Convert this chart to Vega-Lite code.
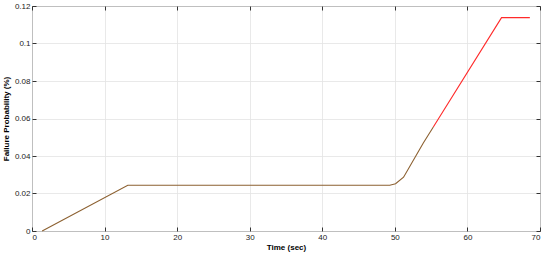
{
  "$schema": "https://vega.github.io/schema/vega-lite/v6.json",
  "autosize": "none",
  "width": 508,
  "height": 225,
  "padding": {"left": 32, "top": 6, "right": 10, "bottom": 25},
  "background": "white",
  "config": {
    "view": {"stroke": "#333", "strokeWidth": 1},
    "axis": {
      "labelFont": "Liberation Sans",
      "titleFont": "Liberation Sans",
      "labelFontSize": 8,
      "titleFontSize": 8,
      "titleFontWeight": "bold",
      "labelColor": "#222",
      "titleColor": "#000",
      "domain": false,
      "tickColor": "#333",
      "tickSize": -4,
      "gridColor": "#e3e3e3",
      "gridWidth": 0.8
    }
  },
  "datasets": {
    "red": [
      {"t": 55.3, "p": 0.0555},
      {"t": 64.7, "p": 0.1138},
      {"t": 68.6, "p": 0.1138}
    ],
    "brown": [
      {"t": 1.4, "p": 0},
      {"t": 13.2, "p": 0.0244},
      {"t": 49.3, "p": 0.0244},
      {"t": 50.1, "p": 0.0252},
      {"t": 51.2, "p": 0.0287},
      {"t": 53.9, "p": 0.0468},
      {"t": 55.3, "p": 0.0555}
    ]
  },
  "layer": [
    {
      "data": {"name": "red"},
      "mark": {"type": "line", "color": "#ff2a2a", "strokeWidth": 1.1},
      "encoding": {
        "x": {
          "field": "t", "type": "quantitative",
          "scale": {"domain": [0, 70], "nice": false},
          "axis": {"title": "Time (sec)", "values": [0,10,20,30,40,50,60,70], "labelPadding": 6, "titlePadding": 2, "grid": true}
        },
        "y": {
          "field": "p", "type": "quantitative",
          "scale": {"domain": [0, 0.12], "nice": false},
          "axis": {"title": "Failure Probability (%)", "values": [0,0.02,0.04,0.06,0.08,0.1,0.12], "format": ".2~f", "labelPadding": 6, "titlePadding": 4, "grid": true, "labelOverlap": false, "labelBound": false}
        }
      }
    },
    {
      "data": {"name": "brown"},
      "mark": {"type": "line", "color": "#8c6030", "strokeWidth": 1.1},
      "encoding": {
        "x": {"field": "t", "type": "quantitative", "scale": {"domain": [0, 70], "nice": false}, "axis": null},
        "y": {"field": "p", "type": "quantitative", "scale": {"domain": [0, 0.12], "nice": false}, "axis": null}
      }
    },
    {
      "data": {"name": "brown"},
      "mark": {"type": "point", "opacity": 0},
      "encoding": {
        "x": {"field": "t", "type": "quantitative", "scale": {"domain": [0, 70], "nice": false}, "axis": {"orient": "top", "labels": false, "title": null, "grid": false, "values": [0,10,20,30,40,50,60,70]}},
        "y": {"field": "p", "type": "quantitative", "scale": {"domain": [0, 0.12], "nice": false}, "axis": {"orient": "right", "labels": false, "title": null, "grid": false, "values": [0,0.02,0.04,0.06,0.08,0.1,0.12]}}
      }
    }
  ],
  "resolve": {"axis": {"x": "independent", "y": "independent"}}
}
